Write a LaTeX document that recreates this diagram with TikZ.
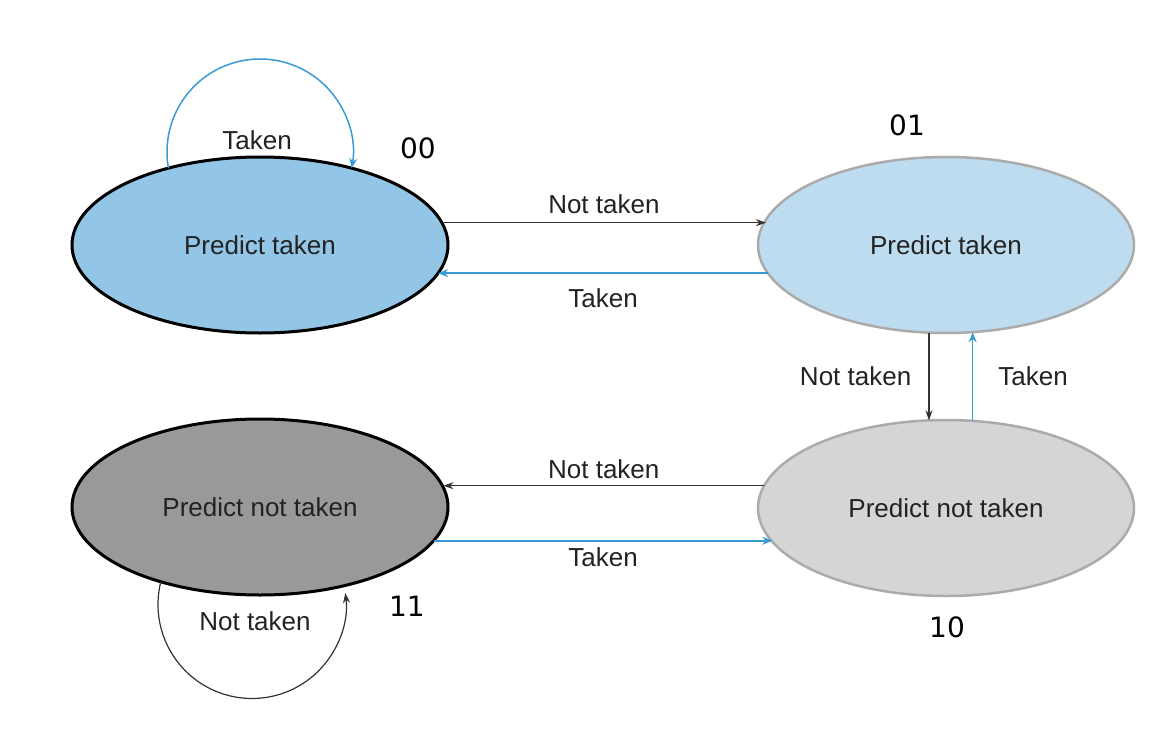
\documentclass[tikz,border=0pt]{standalone}
\usepackage{fontspec}
\setmainfont{Liberation Sans}
\newfontfamily\numfont{DejaVu Sans}
\usetikzlibrary{shapes.geometric,arrows.meta}
\definecolor{fillA}{HTML}{93C6E6}
\definecolor{fillB}{HTML}{BEDCF0}
\definecolor{fillC}{HTML}{999999}
\definecolor{fillD}{HTML}{D6D5D6}
\definecolor{edgegray}{HTML}{ABABAB}
\definecolor{lineblue}{HTML}{3A9AD4}
\definecolor{linedark}{HTML}{333333}
\definecolor{txt}{HTML}{222222}
\begin{document}
\begin{tikzpicture}[x=1pt,y=1pt,
  state/.style={ellipse, minimum width=376pt, minimum height=176pt, inner sep=0pt,
    outer sep=0pt, font=\fontsize{26}{30}\selectfont, text=txt},
  strong/.style={state, draw=black, line width=3pt},
  soft/.style={state, draw=edgegray, line width=2.5pt},
  tbl/.style={font=\fontsize{26}{30}\selectfont, text=txt, inner sep=0pt},
  num/.style={font=\numfont\fontsize{28}{32}\selectfont, text=black, inner sep=0pt},
  nt/.style={draw=linedark, line width=1.4pt, -{Stealth[length=10pt,width=7pt]}},
  tk/.style={draw=lineblue, line width=1.6pt, -{Stealth[length=10pt,width=8pt]}}]
\useasboundingbox (0,0) rectangle (1162,-736);

\node[strong, fill=fillA] (s00) at (260,-245) {Predict taken};
\node[soft, fill=fillB] (s01) at (946,-245) {Predict taken};
\node[strong, fill=fillC] (s11) at (260,-507) {Predict not taken};
\node[soft, fill=fillD] (s10) at (946,-508) {Predict not taken};

\node[num] (n00) at (418,-148) {00};
\node[num] (n01) at (907,-125) {01};
\node[num] (n11) at (407,-606) {11};
\node[num] (n10) at (947,-627) {10};

% top row
\draw[nt] (s00.7.9) -- node[tbl, above=8pt] (l1) {Not taken} (s01.172.1 |- s00.7.9);
\draw[tk] (s01.189.4) -- node[tbl, below=15pt] (l2) {Taken} (s00.-9.4 |- s01.189.4);
% right column
\draw[nt] (s01.259) -- node[tbl, left=17pt] (l3) {Not taken} (s01.259 |- s10.101);
\draw[tk] (s10.73.4) -- node[tbl, right=25pt] (l4) {Taken} (s10.73.4 |- s01.286.6);
% bottom row
\draw[nt] (s10.173.3) -- node[tbl, above=6pt] (l5) {Not taken} (s11.6.7 |- s10.173.3);
\draw[tk] (s11.-11.3) -- node[tbl, below=6pt] (l6) {Taken} (s10.191.3 |- s11.-11.3);

% self loops
\draw[tk, line width=1.5pt] (s00.140) arc[start angle=190, end angle=-10, radius=93];
\node[tbl] (l7) at (257,-140) {Taken};
\draw[nt, line width=1.2pt] (s11.-143.2) arc[start angle=166, end angle=367, radius=94];
\node[tbl] (l8) at (255,-621) {Not taken};
\end{tikzpicture}
\end{document}
